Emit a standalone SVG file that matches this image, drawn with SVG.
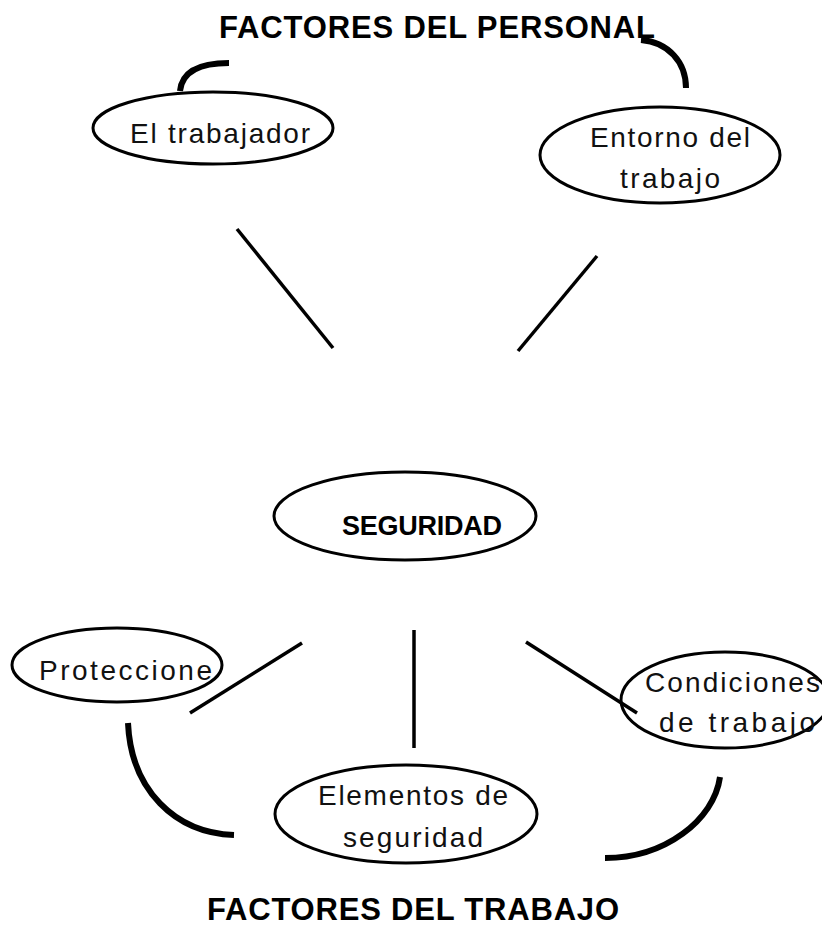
<svg xmlns="http://www.w3.org/2000/svg" width="822" height="937" viewBox="0 0 822 937">
  <style>
    .bg { fill: #ffffff; }
    .node ellipse { fill: none; stroke: #000000; stroke-width: 3; }
    .label { font-family: "Liberation Sans", "DejaVu Sans", sans-serif; font-size: 28px; fill: #111111; }
    .strong { font-family: "Liberation Sans", Arial, sans-serif; font-weight: bold; font-size: 27px; fill: #000000; }
    .title { font-family: "Liberation Sans", Arial, sans-serif; font-weight: bold; font-size: 31px; fill: #000000; }
    .link { stroke: #000000; stroke-width: 3.5; fill: none; }
    .arc { stroke: #000000; stroke-width: 6; fill: none; }
  </style>
  <rect class="bg" x="0" y="0" width="822" height="937"/>

  <text id="title-personal" class="title" x="219" y="38" textLength="436" lengthAdjust="spacing">FACTORES DEL PERSONAL</text>
  <text id="title-trabajo" class="title" x="207" y="920" textLength="412" lengthAdjust="spacing">FACTORES DEL TRABAJO</text>

  <g id="connectors">
    <line class="link" x1="237" y1="229" x2="333" y2="348"/>
    <line class="link" x1="597" y1="256" x2="518" y2="351"/>
    <line class="link" x1="302" y1="643" x2="190" y2="713"/>
    <line class="link" x1="414" y1="630" x2="414" y2="748"/>
    <line class="link" x1="526" y1="642" x2="637" y2="713"/>
    <path class="arc" d="M180,91 C182,71 200,63 229,63"/>
    <path class="arc" d="M641,40 C668,42 686,62 686,88"/>
    <path class="arc" d="M128,723 C131,790 175,833 234,835"/>
    <path class="arc" d="M720,777 C714,820 665,858 605,858"/>
  </g>

  <g id="node-trabajador" class="node">
    <ellipse cx="213" cy="128" rx="120" ry="36"/>
    <text class="label" x="130" y="143" textLength="180" lengthAdjust="spacing">El trabajador</text>
  </g>

  <g id="node-entorno" class="node">
    <ellipse cx="660" cy="155" rx="120" ry="48"/>
    <text class="label" x="590" y="147" textLength="160" lengthAdjust="spacing">Entorno del</text>
    <text class="label" x="620" y="188" textLength="100" lengthAdjust="spacing">trabajo</text>
  </g>

  <g id="node-seguridad" class="node">
    <ellipse cx="405" cy="516" rx="131" ry="44"/>
    <text class="strong" x="342" y="535" textLength="160" lengthAdjust="spacing">SEGURIDAD</text>
  </g>

  <g id="node-protecciones" class="node">
    <ellipse cx="117" cy="665" rx="105" ry="37"/>
    <text class="label" x="39" y="680" textLength="173" lengthAdjust="spacing">Proteccione</text>
  </g>

  <g id="node-condiciones" class="node">
    <ellipse cx="725" cy="700" rx="104" ry="48"/>
    <text class="label" x="645" y="692" textLength="175" lengthAdjust="spacing">Condiciones</text>
    <text class="label" x="659" y="732" textLength="156" lengthAdjust="spacing">de trabajo</text>
  </g>

  <g id="node-elementos" class="node">
    <ellipse cx="406" cy="814" rx="131" ry="49"/>
    <text class="label" x="318" y="805" textLength="190" lengthAdjust="spacing">Elementos de</text>
    <text class="label" x="343" y="847" textLength="140" lengthAdjust="spacing">seguridad</text>
  </g>
</svg>
